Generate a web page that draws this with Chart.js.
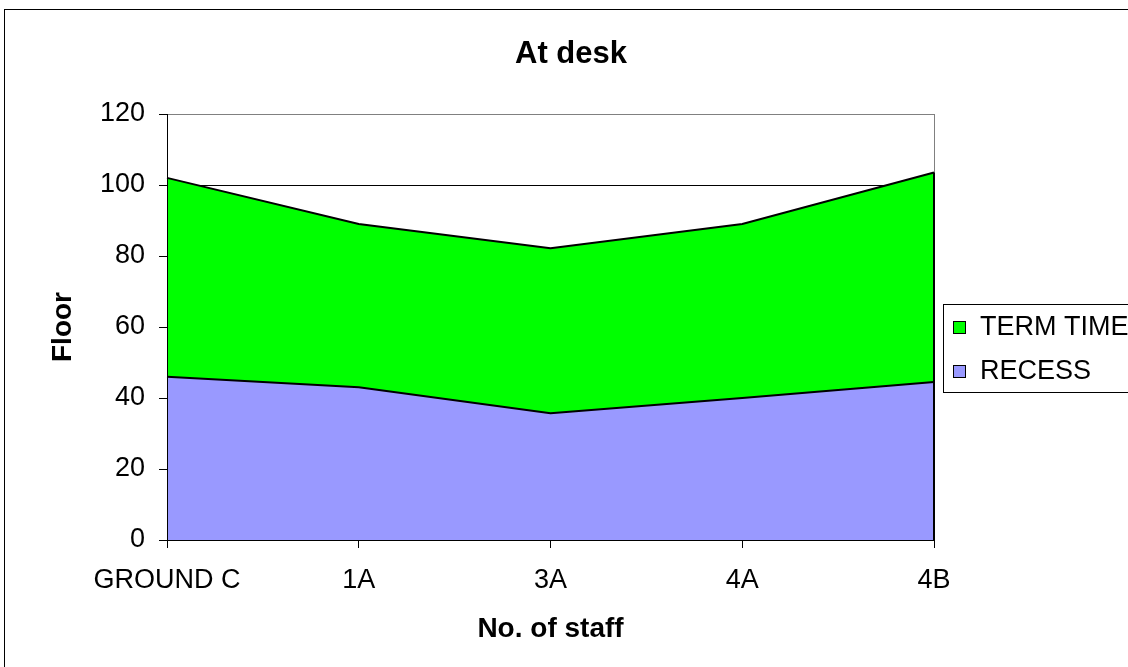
<!DOCTYPE html>
<html>
<head>
<meta charset="utf-8">
<script src="https://cdn.jsdelivr.net/npm/chart.js@4.4.1/dist/chart.umd.min.js"></script>
<style>
    html, body { margin: 0; padding: 0; background: #fff; overflow: hidden; }
    #frame { position: absolute; left: 4px; top: 9px; width: 1300px; height: 800px; border: 1px solid #000; }
    #atDesk { position: absolute; left: 0; top: 0; }
</style>
</head>
<body>
<div id="frame"></div>
<canvas id="atDesk" width="1128" height="667"></canvas>
<script>
// Data
const floors = ['GROUND C', '1A', '3A', '4A', '4B'];
const recess = [46, 43, 35.7, 40, 44.5];
const termTime = [56, 46, 46.5, 49, 59];
const yTicks = [0, 20, 40, 60, 80, 100, 120];

const chartTitle = 'At desk';
const FONT = "'Liberation Sans', Arial, sans-serif";

// Title drawn at fixed spot (Chart.js title box would shift the plot area)
const titlePlugin = {
    id: 'titlePlugin',
    afterDraw(chart) {
        const ctx = chart.ctx;
        ctx.save();
        ctx.font = 'bold 31px ' + FONT;
        ctx.fillStyle = '#000';
        ctx.textAlign = 'center';
        ctx.textBaseline = 'middle';
        ctx.fillText(chartTitle, 571, 54);
        ctx.restore();
    }
};

// Plot-area frame: grey right edge, black end edge of the areas
const framePlugin = {
    id: 'framePlugin',
    beforeDatasetsDraw(chart) {
        const { ctx, chartArea } = chart;
        ctx.save();
        ctx.strokeStyle = '#808080';
        ctx.lineWidth = 1;
        ctx.beginPath();
        ctx.moveTo(chartArea.right + 0.5, chartArea.top);
        ctx.lineTo(chartArea.right + 0.5, chartArea.bottom);
        ctx.stroke();
        ctx.restore();
    },
    afterDatasetsDraw(chart) {
        const ctx = chart.ctx;
        const yScale = chart.scales.y;
        const top = chart.getDatasetMeta(chart.data.datasets.length - 1).data;
        const last = top[top.length - 1];
        ctx.save();
        ctx.strokeStyle = '#000';
        ctx.lineWidth = 2;
        ctx.beginPath();
        ctx.moveTo(last.x, yScale.getPixelForValue(0));
        ctx.lineTo(last.x, last.y);
        ctx.stroke();
        ctx.restore();
    }
};

// Legend with a border, series listed top-down
const legendPlugin = {
    id: 'legendPlugin',
    afterDraw(chart) {
        const ctx = chart.ctx;
        const boxLeft = 943, boxTop = 304, boxBottom = 392;
        ctx.save();
        ctx.strokeStyle = '#000';
        ctx.lineWidth = 1;
        ctx.strokeRect(boxLeft + 0.5, boxTop + 0.5, 400, boxBottom - boxTop);
        ctx.font = '27px ' + FONT;
        ctx.textBaseline = 'middle';
        ctx.textAlign = 'left';
        const items = chart.data.datasets.slice().reverse();
        items.forEach((ds, i) => {
            const cy = 327 + i * 44;
            ctx.fillStyle = ds.backgroundColor;
            ctx.fillRect(953, cy - 6, 12, 12);
            ctx.strokeRect(953.5, cy - 5.5, 12, 12);
            ctx.fillStyle = '#000';
            ctx.fillText(ds.label, 980, cy + 1);
        });
        ctx.restore();
    }
};

const ctx = document.getElementById('atDesk').getContext('2d');
const atDeskChart = new Chart(ctx, {
    type: 'line',
    data: {
        labels: floors,
        datasets: [{
            label: 'RECESS',
            data: recess,
            backgroundColor: '#9999FF',
            borderColor: '#000',
            borderWidth: 2,
            pointRadius: 0,
            tension: 0,
            fill: 'origin'
        }, {
            label: 'TERM TIME',
            data: termTime,
            backgroundColor: '#00FF00',
            borderColor: '#000',
            borderWidth: 2,
            pointRadius: 0,
            tension: 0,
            fill: '-1'
        }]
    },
    options: {
        responsive: false,
        animation: false,
        devicePixelRatio: 1,
        layout: {
            padding: { left: 0, top: 114, right: 194, bottom: 0 }
        },
        plugins: {
            legend: { display: false },
            title: { display: false },
            tooltip: { enabled: false },
            filler: { drawTime: 'beforeDatasetsDraw' }
        },
        scales: {
            x: {
                offset: false,
                grid: {
                    display: true,
                    drawOnChartArea: false,
                    drawTicks: true,
                    tickLength: 8,
                    tickColor: '#000'
                },
                border: { display: true, color: '#000', width: 1, z: 1 },
                ticks: {
                    color: '#000',
                    font: { family: FONT, size: 27 },
                    padding: 16,
                    maxRotation: 0,
                    autoSkip: false
                },
                title: {
                    display: true,
                    text: 'No. of staff',
                    color: '#000',
                    font: { family: FONT, size: 28, weight: 'bold' },
                    padding: { top: 0, bottom: 21 }
                },
                afterFit(scale) { scale.height = 127; }
            },
            y: {
                stacked: true,
                min: 0,
                max: 120,
                afterBuildTicks(scale) {
                    scale.ticks = yTicks.map(v => ({ value: v }));
                },
                grid: {
                    color: c => (c.tick && c.tick.value === 120) ? '#808080' : '#000',
                    lineWidth: 1,
                    drawTicks: true,
                    tickLength: 8,
                    tickColor: '#000'
                },
                border: { display: true, color: '#000', width: 1, z: 1 },
                ticks: {
                    color: '#000',
                    font: { family: FONT, size: 27 },
                    padding: 14
                },
                title: {
                    display: true,
                    text: 'Floor',
                    color: '#000',
                    font: { family: FONT, size: 28, weight: 'bold' },
                    padding: { top: 46, bottom: 0 }
                },
                afterFit(scale) { scale.width = 167; }
            }
        }
    },
    plugins: [framePlugin, titlePlugin, legendPlugin]
});
</script>
</body>
</html>
